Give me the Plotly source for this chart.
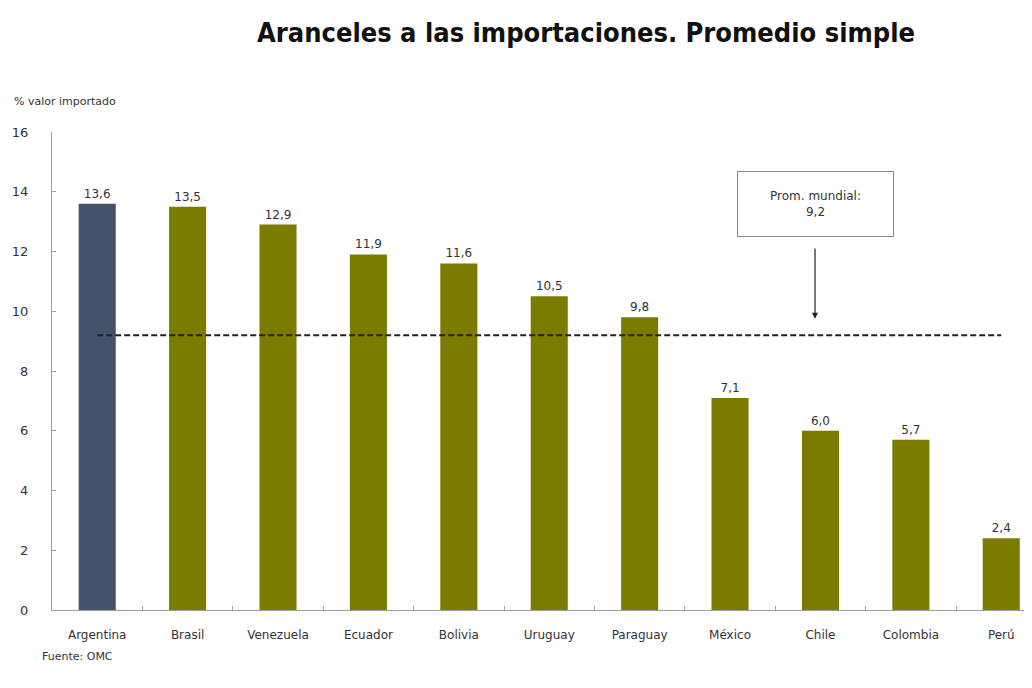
import plotly.graph_objects as go

countries = ["Argentina", "Brasil", "Venezuela", "Ecuador", "Bolivia", "Uruguay",
             "Paraguay", "México", "Chile", "Colombia", "Perú"]
tariffs = [13.6, 13.5, 12.9, 11.9, 11.6, 10.5, 9.8, 7.1, 6.0, 5.7, 2.4]
world_avg = 9.2
bar_colors = ["#44526b"] + ["#7b7b00"] * (len(countries) - 1)
labels = [f"{v:.1f}".replace(".", ",") for v in tariffs]

fig = go.Figure()
fig.add_trace(go.Bar(
    x=countries, y=tariffs, width=0.41,
    marker=dict(color=bar_colors, line=dict(width=0)),
    text=labels, textposition="outside", cliponaxis=False,
    textfont=dict(family="DejaVu Sans", size=12, color="#333333"),
    showlegend=False,
))
fig.add_trace(go.Scatter(
    x=[countries[0], countries[-1]], y=[world_avg, world_avg], mode="lines",
    line=dict(color="#222222", width=2, dash="6px,3px"), showlegend=False,
))

# page body has an 8px margin; the figure is sized/positioned to compensate
OFF = 8
W, H = 1032 - OFF, 688 - OFF
L, R, T, B = 52 - OFF, 0, 132 - OFF, H - (610 - OFF)
fig.update_layout(
    width=W, height=H,
    margin=dict(l=L, r=R, t=T, b=B, autoexpand=False),
    paper_bgcolor="white", plot_bgcolor="white",
    font=dict(family="DejaVu Sans", color="#333333"),
    title=dict(text="<b>Aranceles a las importaciones. Promedio simple</b>",
               x=(586 - OFF) / W, xanchor="center", y=1 - (33 - OFF) / H, yanchor="middle",
               xref="container", yref="container",
               font=dict(family="DejaVu Sans Condensed", size=27, color="#111111")),
    bargap=0.5,
)
fig.update_xaxes(
    type="category", range=[-0.5, 10.34],
    showline=True, linecolor="#a0a0a0", linewidth=1,
    showgrid=False, zeroline=False, ticks="inside", tickson="boundaries",
    ticklen=4, tickcolor="#a0a0a0", ticklabelstandoff=14,
    tickfont=dict(size=12, color="#333333"),
)
fig.update_yaxes(
    range=[0, 16], dtick=2, showline=True, linecolor="#a0a0a0", linewidth=1,
    showgrid=False, zeroline=False, ticks="inside", ticklen=4, tickcolor="#a0a0a0",
    tickfont=dict(size=13, color="#333333"), ticklabelstandoff=20,
)

fig.add_annotation(
    x=7.94, y=13.6, xref="x", yref="y", text="Prom. mundial:<br>9,2",
    showarrow=False, font=dict(size=12, color="#333333"),
    bordercolor="#888888", borderwidth=1, borderpad=9, bgcolor="white",
    width=137, height=46,
)
fig.add_annotation(
    x=7.94, y=9.75, ax=7.94, ay=12.15, xref="x", yref="y", axref="x", ayref="y",
    text="", showarrow=True, arrowhead=2, arrowsize=1, arrowwidth=1.2, arrowcolor="#222222",
)

pw, ph = W - L - R, H - T - B
def px2paper(px, py):
    return (px - OFF - L) / pw, 1 - (py - OFF - T) / ph

ax_, ay_ = px2paper(12, 101)
fig.add_annotation(
    x=ax_, y=ay_, xref="paper", yref="paper", text="% valor importado", showarrow=False,
    font=dict(size=11, color="#333333"), xanchor="left", yanchor="middle",
)
fx, fy = px2paper(40, 656)
fig.add_annotation(
    x=fx, y=fy, xref="paper", yref="paper", text="Fuente: OMC", showarrow=False,
    font=dict(size=11, color="#333333"), xanchor="left", yanchor="middle",
)

fig.write_html("out.html")
